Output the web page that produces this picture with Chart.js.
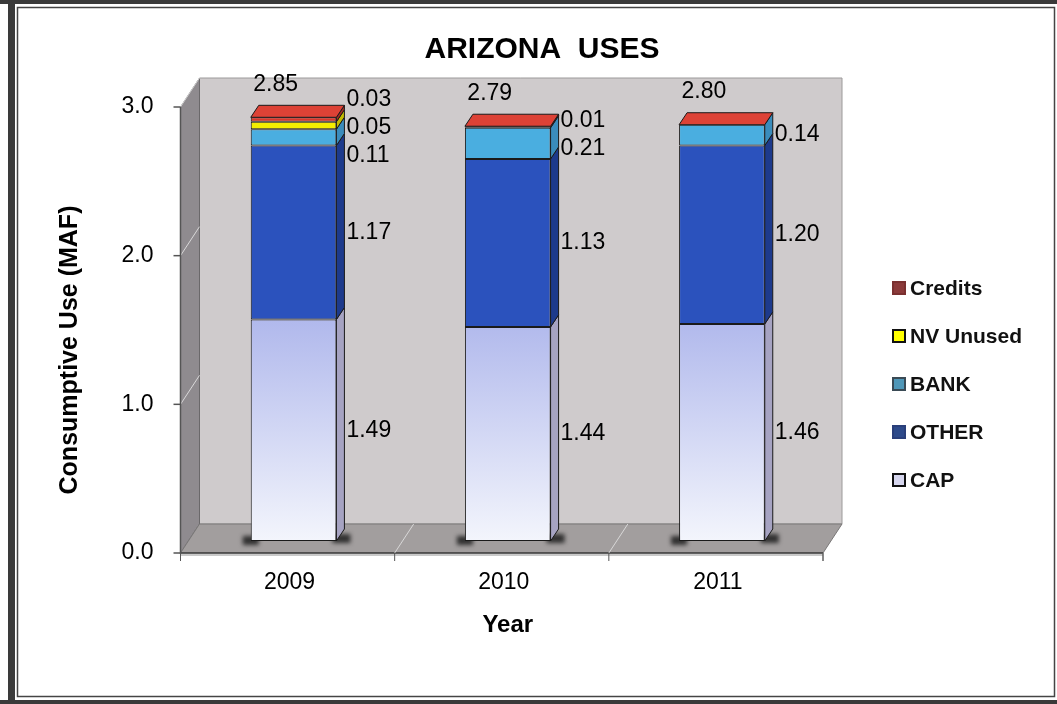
<!DOCTYPE html>
<html lang="en">
<head>
<meta charset="UTF-8">
<title>Arizona Uses</title>
<script src="https://cdn.jsdelivr.net/npm/chart.js"></script>
<style>
  html, body { margin: 0; padding: 0; background: #fff; }
  #wrap { width: 1057px; height: 704px; }
</style>
</head>
<body>
<div id="wrap"><canvas id="chart" width="1057" height="704"></canvas></div>
<script>
  // values (MAF)
  const years = ['2009', '2010', '2011'];
  const cap = [1.49, 1.44, 1.46];
  const other = [1.17, 1.13, 1.20];
  const bank = [0.11, 0.21, 0.14];
  const nvUnused = [0.05, 0, 0];
  const credits = [0.03, 0.01, 0];
  const yTicks = [0, 1, 2, 3];

  const FONT = '"Liberation Sans", Arial, sans-serif';

  // pseudo 3D offsets relative to the bar plane
  const FRONT = { dx: -6, dy: 12 };
  const BACK = { dx: 13, dy: -17 };
  const DEPTH = { dx: 8, dy: -12 };

  const sideColors = ['#a6a3c2', '#1d3a8c', '#3a8cbc', '#c4bc00', '#a22a22'];
  const legendColors = ['#d6d6ee', '#2d4a8a', '#4f97b8', '#ffff00', '#8b3a3a'];
  const legendBorders = ['#111', '#2a3f7a', '#3a4a55', '#111', '#7a3030'];

  function capFill(c) {
    const chart = c.chart;
    if (!chart.chartArea) return '#c8cef0';
    const y = chart.scales.y;
    const g = chart.ctx.createLinearGradient(0, y.getPixelForValue(0), 0, y.getPixelForValue(1.5));
    g.addColorStop(0, '#f3f5fc');
    g.addColorStop(1, '#b0b8ec');
    return g;
  }

  function poly(ctx, pts, fill, stroke, lw) {
    ctx.beginPath();
    ctx.moveTo(pts[0][0], pts[0][1]);
    for (let i = 1; i < pts.length; i++) ctx.lineTo(pts[i][0], pts[i][1]);
    ctx.closePath();
    if (fill) { ctx.fillStyle = fill; ctx.fill(); }
    if (stroke) { ctx.strokeStyle = stroke; ctx.lineWidth = lw || 1; ctx.stroke(); }
  }

  function line(ctx, x1, y1, x2, y2, color, lw) {
    ctx.beginPath();
    ctx.moveTo(x1, y1);
    ctx.lineTo(x2, y2);
    ctx.strokeStyle = color;
    ctx.lineWidth = lw || 1;
    ctx.stroke();
  }

  const threeD = {
    id: 'threeD',
    beforeDraw(chart) {
      const ctx = chart.ctx;
      ctx.save();
      ctx.fillStyle = '#fff';
      ctx.fillRect(0, 0, chart.width, chart.height);
      ctx.restore();
    },
    beforeDatasetsDraw(chart) {
      const { ctx, chartArea: a, scales: { y } } = chart;
      const y0 = y.getPixelForValue(0), y3 = y.getPixelForValue(3);
      const fl = a.left + FRONT.dx, fr = a.right + FRONT.dx;
      const bl = a.left + BACK.dx, br = a.right + BACK.dx;
      const y0f = y0 + FRONT.dy, y3f = y3 + FRONT.dy;
      const y0b = y0 + BACK.dy, y3b = y3 + BACK.dy;
      ctx.save();
      // back wall
      poly(ctx, [[bl, y3b], [br, y3b], [br, y0b], [bl, y0b]], '#cfcbcc', '#9c9a9a');
      // left wall
      poly(ctx, [[fl, y3f], [bl, y3b], [bl, y0b], [fl, y0f]], '#8f8b8f', '#6a686a');
      // floor
      poly(ctx, [[fl, y0f], [fr, y0f], [br, y0b], [bl, y0b]], '#a29e9e', '#7a7878');
      ctx.fillStyle = '#c9c9c9';
      ctx.fillRect(fl, y0f, fr - fl, 3);
      line(ctx, fl, y0f, fr, y0f, '#3c3c3c', 1.5);
      line(ctx, fr, y0f, fr, y0f + 8, '#777', 1);
      // gridlines on left wall
      yTicks.forEach(v => {
        if (v === 0) return;
        const p = y.getPixelForValue(v);
        line(ctx, fl, p + FRONT.dy, bl, p + BACK.dy, 'rgba(235,235,235,0.8)', 1);
      });
      // category dividers on the floor and x tick marks
      const step = a.width / years.length;
      for (let k = 0; k <= years.length; k++) {
        const xk = a.left + k * step;
        if (k > 0 && k < years.length) {
          line(ctx, xk + FRONT.dx, y0f, xk + BACK.dx, y0b, 'rgba(230,230,230,0.8)', 1);
        }
        line(ctx, xk + FRONT.dx, y0f, xk + FRONT.dx, y0f + 8, '#555', 1);
      }
      // value axis
      line(ctx, fl, y3f, fl, y0f + 1, '#555', 1.5);
      yTicks.forEach(v => {
        const p = y.getPixelForValue(v) + FRONT.dy;
        line(ctx, fl - 7, p, fl, p, '#555', 1.5);
      });
      // small shadows at the foot of each bar
      const base = chart.getDatasetMeta(0);
      ctx.filter = 'blur(2px)';
      ctx.fillStyle = 'rgba(30,30,30,0.85)';
      base.data.forEach(el => {
        const { x, base: b, width: w } = el.getProps(['x', 'base', 'width'], true);
        ctx.fillRect(x - w / 2 - 8, b - 5, 16, 9);
        ctx.fillRect(x + w / 2 - 4, b - 7, 18, 9);
      });
      ctx.restore();
    },
    afterDatasetsDraw(chart) {
      const ctx = chart.ctx;
      const n = chart.data.datasets.length;
      ctx.save();
      for (let i = 0; i < n; i++) {
        const meta = chart.getDatasetMeta(i);
        meta.data.forEach(el => {
          const { x, y, base, width: w } = el.getProps(['x', 'y', 'base', 'width'], true);
          if (Math.abs(base - y) < 0.5) return;
          const r = x + w / 2;
          poly(ctx, [[r, y], [r + DEPTH.dx, y + DEPTH.dy], [r + DEPTH.dx, base + DEPTH.dy], [r, base]],
            sideColors[i], '#1a1a1a', 1);
        });
      }
      // top faces, labels and totals
      const topMeta = chart.getDatasetMeta(n - 1);
      topMeta.data.forEach((el, j) => {
        const { x, y: yt, width: w } = el.getProps(['x', 'y', 'width'], true);
        const l = x - w / 2, r = x + w / 2;
        poly(ctx, [[l, yt], [l + DEPTH.dx, yt + DEPTH.dy], [r + DEPTH.dx, yt + DEPTH.dy], [r, yt]],
          '#dd4236', '#1a1a1a', 1);

        const labels = [];
        let total = 0;
        for (let i = 0; i < n; i++) {
          const v = chart.data.datasets[i].data[j];
          total += v;
          if (v <= 0) continue;
          const e = chart.getDatasetMeta(i).data[j];
          const p = e.getProps(['y', 'base'], true);
          labels.push({ text: v.toFixed(2), y: (p.y + p.base) / 2 });
        }
        labels.sort((a, b) => a.y - b.y);
        const gap = 28;
        for (let it = 0; it < 30; it++) {
          for (let k = 1; k < labels.length; k++) {
            const over = labels[k - 1].y + gap - labels[k].y;
            if (over > 0) { labels[k - 1].y -= over / 2; labels[k].y += over / 2; }
          }
        }
        ctx.fillStyle = '#000';
        ctx.font = '23px ' + FONT;
        ctx.textAlign = 'left';
        ctx.textBaseline = 'middle';
        labels.forEach(lb => ctx.fillText(lb.text, r + 10, lb.y));
        ctx.textAlign = 'center';
        ctx.fillText(total.toFixed(2), x - 18, yt - 33);
      });
      ctx.restore();
    },
    afterDraw(chart) {
      const ctx = chart.ctx;
      ctx.save();
      // title
      ctx.fillStyle = '#000';
      ctx.textAlign = 'center';
      ctx.textBaseline = 'middle';
      ctx.font = 'bold 30px ' + FONT;
      ctx.fillText('ARIZONA  USES', 542, 50);
      // value axis title
      ctx.save();
      ctx.translate(70, 350);
      ctx.rotate(-Math.PI / 2);
      ctx.font = 'bold 25px ' + FONT;
      ctx.fillText('Consumptive Use (MAF)', 0, 0);
      ctx.restore();
      // legend, top item is the last series
      const ds = chart.data.datasets;
      ctx.font = 'bold 21px ' + FONT;
      ctx.textAlign = 'left';
      for (let i = ds.length - 1, k = 0; i >= 0; i--, k++) {
        const cy = 288 + k * 48;
        ctx.fillStyle = legendColors[i];
        ctx.fillRect(893, cy - 6, 12, 12);
        ctx.strokeStyle = legendBorders[i];
        ctx.lineWidth = 2;
        ctx.strokeRect(893, cy - 6, 12, 12);
        ctx.fillStyle = '#111';
        ctx.fillText(ds[i].label, 910, cy + 1);
      }
      // double frame
      ctx.fillStyle = '#3a3a3a';
      ctx.fillRect(0, 0, 1057, 4);
      ctx.fillRect(8, 0, 7, 704);
      ctx.fillRect(0, 700, 1057, 4);
      ctx.strokeStyle = '#444';
      ctx.lineWidth = 1.5;
      ctx.strokeRect(17.5, 7.5, 1037, 689);
      ctx.restore();
    }
  };

  const common = { borderColor: '#1a1a1a', borderWidth: 1, borderSkipped: false, barPercentage: 0.4, categoryPercentage: 1 };

  new Chart(document.getElementById('chart'), {
    type: 'bar',
    data: {
      labels: years,
      datasets: [
        { label: 'CAP', data: cap, backgroundColor: capFill, ...common },
        { label: 'OTHER', data: other, backgroundColor: '#2b52bd', ...common },
        { label: 'BANK', data: bank, backgroundColor: '#4aaee0', ...common },
        { label: 'NV Unused', data: nvUnused, backgroundColor: '#f4ee00', ...common },
        { label: 'Credits', data: credits, backgroundColor: '#d6382c', ...common }
      ]
    },
    options: {
      responsive: false,
      animation: false,
      devicePixelRatio: 1,
      layout: { padding: { top: 95, right: 228, bottom: 64, left: 0 } },
      plugins: {
        legend: { display: false },
        title: { display: false },
        tooltip: { enabled: false }
      },
      scales: {
        x: {
          stacked: true,
          grid: { display: false, drawTicks: false },
          border: { display: false },
          ticks: { padding: 28, labelOffset: -4, color: '#000', font: { family: FONT, size: 23 } },
          title: { display: true, text: 'Year', color: '#000', font: { family: FONT, size: 24, weight: 'bold' }, padding: { top: 0, bottom: 0 } },
          afterFit: s => { s.height = 99; }
        },
        y: {
          stacked: true,
          min: 0,
          max: 3,
          grid: { display: false, drawTicks: false },
          border: { display: false },
          afterBuildTicks: s => { s.ticks = yTicks.map(v => ({ value: v })); },
          ticks: { padding: 33, labelOffset: 12, color: '#000', font: { family: FONT, size: 23 }, callback: v => Number(v).toFixed(1) },
          afterFit: s => { s.width = 186.5; }
        }
      }
    },
    plugins: [threeD]
  });
</script>
</body>
</html>
